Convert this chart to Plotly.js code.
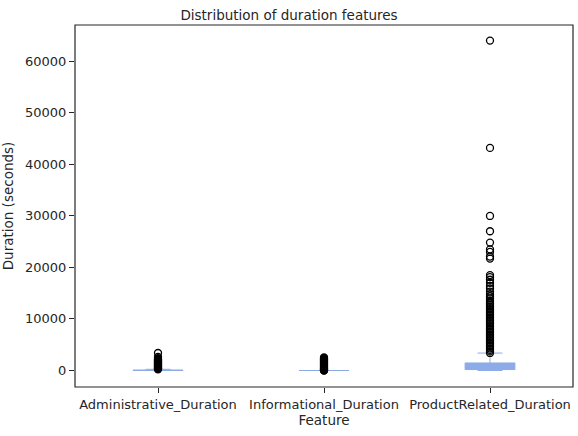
<!DOCTYPE html>
<html>
<head>
<meta charset="utf-8">
<script src="https://cdn.plot.ly/plotly-3.0.1.min.js"></script>
<style>body{margin:0}#plot{width:578px;height:436px}</style>
</head>
<body>
<div id="plot"></div>
<script>
const features = ["Administrative_Duration", "Informational_Duration", "ProductRelated_Duration"];
const q1 = [0, 0, 184];
const median = [7.5, 0, 599];
const q3 = [93, 0, 1464];
const lowerFence = [0, 0, 0];
const upperFence = [232, 0, 3380];

const adminOutliers = [240, 300, 380, 460, 540, 620, 700, 790, 880, 960, 1050, 1130, 1220, 1300, 1400, 1480, 1570, 1660, 1750, 1850, 1950, 2050, 2150, 2250, 2400, 2630, 3398];
const infoOutliers = [1, 20, 60, 120, 200, 300, 400, 500, 620, 740, 860, 980, 1100, 1220, 1340, 1460, 1580, 1700, 1820, 1950, 2050, 2150, 2250, 2400, 2550];
const productOutliers = [3400, 3700, 4000, 4300, 4600, 4900, 5200, 5500, 5800, 6100, 6400, 6700, 7000, 7300, 7600, 7900, 8200, 8500, 8800, 9100, 9400, 9700, 10000, 10300, 10600, 10900, 11200, 11500, 11800, 12100, 12400, 12700, 13000, 13300, 13600, 14000, 14400, 14800, 15300, 15900, 16400, 17000, 17600, 18100, 18500, 21700, 22100, 23000, 23500, 24800, 27000, 29970, 43171, 63974];
const outliers = [adminOutliers, infoOutliers, productOutliers];

const boxColor = "#8dabe6";
const ink = "#262626";
const traces = [{
  type: "box",
  x: features,
  q1: q1, median: median, q3: q3,
  lowerfence: lowerFence, upperfence: upperFence,
  boxpoints: false,
  width: 0.3,
  whiskerwidth: 0.5,
  fillcolor: boxColor,
  line: { color: boxColor, width: 1 },
  hoverinfo: "y",
}];
features.forEach((f, i) => {
  traces.push({
    type: "scatter", mode: "markers",
    x: outliers[i].map(() => f), y: outliers[i],
    marker: { symbol: "circle-open", size: 7, color: "black", line: { width: 1.3 } },
    hoverinfo: "y",
  });
});

const font = (s) => ({ family: "DejaVu Sans", size: s, color: ink });
const layout = {
  width: 578, height: 436,
  showlegend: false,
  font: font(13),
  title: { text: "Distribution of duration features", x: 0.5, xanchor: "center", y: 0.975, font: font(13.5) },
  margin: { l: 75, r: 5, t: 25, b: 49 },
  plot_bgcolor: "white",
  xaxis: {
    title: { text: "Feature", standoff: 2, font: font(13.5) },
    tickfont: font(13),
    showline: false,
    ticks: "outside", ticklen: 5, tickcolor: ink, range: [-0.5, 2.5],
  },
  yaxis: {
    title: { text: "Duration (seconds)", standoff: 8, font: font(13.5) },
    tickfont: font(13),
    range: [-3200, 67000],
    tickvals: [0, 10000, 20000, 30000, 40000, 50000, 60000],
    tickformat: "d",
    showline: false,
    ticks: "outside", ticklen: 5, tickcolor: ink,
    showgrid: false, zeroline: false,
  },
  shapes: [{
    type: "rect", xref: "paper", yref: "paper", x0: 0, x1: 1, y0: 0, y1: 1,
    line: { color: ink, width: 1.2 },
  }],
};

Plotly.newPlot("plot", traces, layout, { displayModeBar: false });
</script>
</body>
</html>
